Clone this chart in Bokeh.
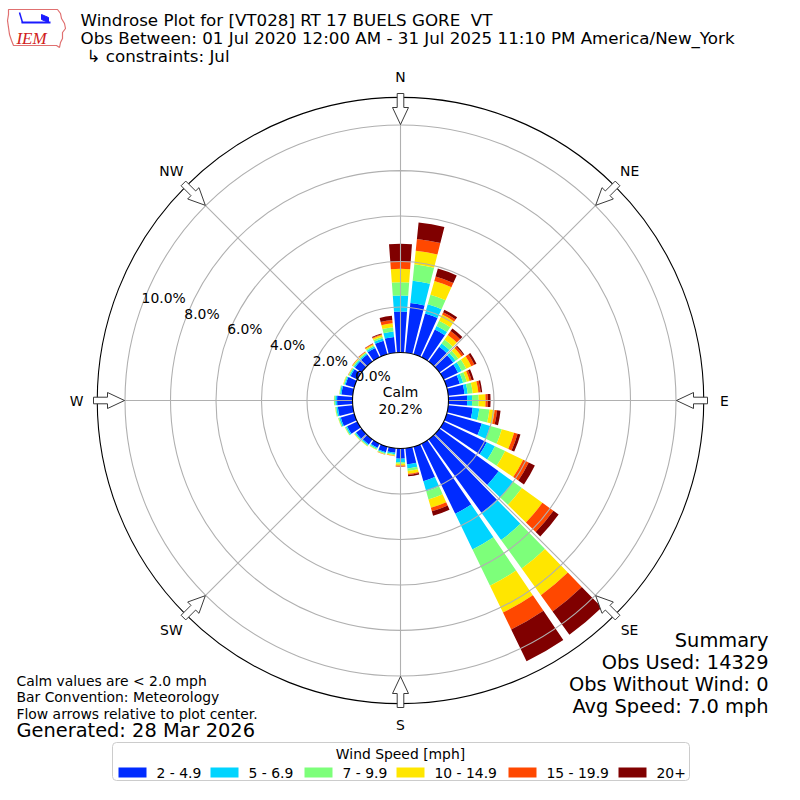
import math
from bokeh.plotting import figure
from bokeh.models import ColumnDataSource, Range1d, Label
from bokeh.embed import file_html
from bokeh.resources import INLINE
from bokeh.core.properties import value

# ---------------- data ----------------
directions = list(range(0, 360, 10))
speed_labels = ["2 - 4.9", "5 - 6.9", "7 - 9.9", "10 - 14.9", "15 - 19.9", "20+"]
speed_colors = ["#002bff", "#00d4ff", "#7dff7a", "#ffe600", "#ff4800", "#800000"]

pct_2_5 = [1.80, 2.20, 1.86, 1.36, 0.80, 0.75, 0.70, 0.60, 0.72, 0.82, 1.08, 1.60,
           2.10, 3.21, 3.97, 3.42, 1.58, 0.71, 0.45, 0.20, 0.25, 0.20, 0.27, 0.30,
           0.50, 0.62, 0.66, 0.68, 0.50, 0.40, 0.33, 0.36, 0.38, 0.45, 0.62, 0.70]
pct_5_7 = [0.71, 0.98, 0.43, 0.17, 0.18, 0.13, 0.18, 0.15, 0.14, 0.22, 0.29, 0.39,
           0.40, 0.79, 1.48, 1.74, 0.46, 0.18, 0.15, 0.06, 0.05, 0.05, 0.05, 0.05,
           0.06, 0.07, 0.07, 0.08, 0.06, 0.05, 0.06, 0.06, 0.06, 0.08, 0.10, 0.24]
pct_7_10 = [0.58, 0.73, 0.43, 0.25, 0.21, 0.15, 0.22, 0.17, 0.22, 0.29, 0.45, 0.53,
            0.50, 0.47, 1.55, 1.77, 0.37, 0.12, 0.07, 0.05, 0.04, 0.04, 0.04, 0.03,
            0.04, 0.04, 0.04, 0.05, 0.03, 0.04, 0.04, 0.05, 0.05, 0.06, 0.08, 0.19]
pct_10_15 = [0.59, 0.60, 0.63, 0.31, 0.25, 0.17, 0.25, 0.13, 0.25, 0.30, 0.23, 0.56,
             0.88, 1.11, 1.44, 1.31, 0.38, 0.12, 0.08, 0.03, 0.02, 0.02, 0.02, 0.02,
             0.01, 0.01, 0.01, 0.01, 0.01, 0.02, 0.02, 0.03, 0.03, 0.05, 0.08, 0.17]
pct_15_20 = [0.32, 0.52, 0.20, 0.11, 0.21, 0.10, 0.15, 0.09, 0.10, 0.10, 0.11, 0.16,
             0.27, 0.60, 0.88, 0.83, 0.16, 0.05, 0.04, 0.01, 0.01, 0.00, 0.00, 0.00,
             0.00, 0.00, 0.00, 0.00, 0.00, 0.00, 0.01, 0.02, 0.02, 0.03, 0.04, 0.15]
pct_20p = [0.78, 0.73, 0.37, 0.12, 0.14, 0.05, 0.10, 0.10, 0.07, 0.12, 0.15, 0.13,
           0.30, 0.28, 1.26, 1.55, 0.20, 0.06, 0.01, 0.00, 0.00, 0.00, 0.00, 0.00,
           0.00, 0.00, 0.00, 0.00, 0.00, 0.00, 0.00, 0.00, 0.01, 0.01, 0.03, 0.18]
series = [pct_2_5, pct_5_7, pct_7_10, pct_10_15, pct_15_20, pct_20p]

calm_pct = 20.2
ring_ticks = [0, 2, 4, 6, 8, 10]
compass_names = ["N", "NE", "E", "SE", "S", "SW", "W", "NW"]
compass_bearings = [0, 45, 90, 135, 180, 225, 270, 315]

title_lines = ["Windrose Plot for [VT028] RT 17 BUELS GORE\u00a0 VT",
               "Obs Between: 01 Jul 2020 12:00 AM - 31 Jul 2025 11:10 PM America/New_York",
               "\u21b3 constraints: Jul"]
summary_lines = ["Summary", "Obs Used: 14329", "Obs Without Wind: 0", "Avg Speed: 7.0 mph"]
note_lines = ["Calm values are < 2.0 mph", "Bar Convention: Meteorology",
              "Flow arrows relative to plot center."]
generated_text = "Generated: 28 Mar 2026"

# ---------------- geometry / scales ----------------
W = H = 784
R0 = 48.0          # radius (px) of 0 %
SCALE = 22.75      # px per 1 %
RMAX_PCT = 11.22   # outer frame in %
HALF_W = 4.2       # half angular width of a sector (deg)
FONT = "DejaVu Sans"


def rad(pct):
    return R0 + SCALE * pct


def ref(xr, yr):
    """picture pixel -> data coordinate (1 unit = 1 px, centre at 0,0)"""
    return xr - 400.0, 400.0 - yr


def polar(bearing, r):
    b = math.radians(bearing)
    return r * math.sin(b), r * math.cos(b)


p = figure(width=W, height=H, x_range=Range1d(-400, 384), y_range=Range1d(-384, 400),
           output_backend="svg", toolbar_location=None, min_border=0)
p.axis.visible = False
p.grid.visible = False
p.outline_line_color = None
p.background_fill_color = "white"

# ---------------- bars ----------------
inner, outer, start, end, col = [], [], [], [], []
for i, d in enumerate(directions):
    cum = 0.0
    for s, c in zip(series, speed_colors):
        v = s[i]
        if v <= 0:
            continue
        inner.append(rad(cum))
        outer.append(rad(cum + v))
        cum += v
        mid = 90.0 - d
        start.append(math.radians(mid - HALF_W))
        end.append(math.radians(mid + HALF_W))
        col.append(c)
bars = ColumnDataSource(dict(x=[0.0] * len(inner), y=[0.0] * len(inner), inner=inner,
                             outer=outer, start=start, end=end, color=col))
p.annular_wedge(x="x", y="y", inner_radius="inner", outer_radius="outer",
                start_angle="start", end_angle="end", fill_color="color",
                line_color=None, source=bars)

# ---------------- grid ----------------
ring_r = [rad(t) for t in ring_ticks[1:]]
p.circle(x=[0] * len(ring_r), y=[0] * len(ring_r), radius=ring_r, fill_color=None,
         line_color="#b0b0b0", line_width=1.1)
xs0, ys0, xs1, ys1 = [], [], [], []
for b in compass_bearings:
    x1, y1 = polar(b, rad(RMAX_PCT))
    xs0.append(0); ys0.append(0); xs1.append(x1); ys1.append(y1)
p.segment(x0=xs0, y0=ys0, x1=xs1, y1=ys1, line_color="#b0b0b0", line_width=1.1)
p.circle(x=[0], y=[0], radius=[rad(RMAX_PCT)], fill_color=None, line_color="black",
         line_width=1.1)

# calm circle
p.circle(x=[0], y=[0], radius=[R0], fill_color="white", line_color="black", line_width=1.1)
p.text(x=[0, 0], y=[9, -8], text=["Calm", f"{calm_pct:.1f}%"], text_align="center",
       text_baseline="middle", text_font=value(FONT), text_font_size="13.9px",
       text_color="black")

# ---------------- flow arrows ----------------
arrow_local = [(307, -3.3), (293, -3.3), (293, -8), (276, 0), (293, 8), (293, 3.3), (307, 3.3)]
axs, ays = [], []
for b in compass_bearings:
    br = math.radians(b)
    u = (math.sin(br), math.cos(br))
    v = (math.cos(br), -math.sin(br))
    axs.append([r * u[0] + w * v[0] for r, w in arrow_local])
    ays.append([r * u[1] + w * v[1] for r, w in arrow_local])
p.patches(xs=axs, ys=ays, fill_color="white", line_color="#3a3a3a", line_width=1)

# compass labels
cx, cy = [], []
for b in compass_bearings:
    x, y = polar(b, 324)
    cx.append(x); cy.append(y)
p.text(x=cx, y=cy, text=compass_names, text_align="center", text_baseline="middle",
       text_font=value(FONT), text_font_size="13.9px", text_color="black")

# radial tick labels
lx, ly, lt = [], [], []
for t in ring_ticks:
    x, y = polar(290, rad(t))
    lx.append(x); ly.append(y + 8)
    lt.append(f"{t:.1f}%")
p.text(x=lx, y=ly, text=lt, text_align="left", text_baseline="middle",
       text_font=value(FONT), text_font_size="13.9px", text_color="black")


# ---------------- titles / notes ----------------
def add_label(xr, yr, text, size, align="left", color="black", style="normal", font=FONT):
    x, y = ref(xr, yr)
    p.add_layout(Label(x=x, y=y, text=text, text_font=font, text_font_size=size,
                       text_align=align, text_baseline="middle", text_color=color,
                       text_font_style=style))


for i, t in enumerate(title_lines):
    add_label(80 if i < 2 else 86, 19 + 18 * i, t, "16.7px")
for i, t in enumerate(summary_lines):
    add_label(768, 640 + 22 * i, t, "19.4px", align="right")
for i, t in enumerate(note_lines):
    add_label(16, 680 + 16.5 * i, t, "13.9px")
add_label(16, 730, generated_text, "19.4px")

# ---------------- legend ----------------
l, tp = ref(112, 742)
r_, bt = ref(689, 780)
p.quad(left=[l], right=[r_], top=[tp], bottom=[bt], fill_color="white",
       line_color="#cccccc", line_width=1, border_radius=4)
add_label(400, 753, "Wind Speed [mph]", "13.9px", align="center")
col_starts = [118, 210, 304, 396, 508, 618]
pxs, pys = [], []
for xs_ in col_starts:
    x, y = ref(xs_ + 14, 772)
    pxs.append(x); pys.append(y)
p.rect(x=pxs, y=pys, width=28, height=10, fill_color=speed_colors, line_color=None)
for xs_, t in zip(col_starts, speed_labels):
    add_label(xs_ + 38, 772, t, "13.9px")

# ---------------- IEM logo ----------------
iowa = [(8, 9), (57, 9), (60, 13), (61, 18), (64, 23), (65, 28), (62, 32), (62, 38),
        (60, 42), (59, 47), (56, 45), (13, 45), (11, 40), (9, 34), (8, 27), (7, 20), (8, 14)]
ix = [ref(a, b)[0] for a, b in iowa]
iy = [ref(a, b)[1] for a, b in iowa]
p.patch(x=ix, y=iy, fill_color=None, line_color="#e07070", line_width=1.2)
bx0, by0 = ref(21, 22)
bx1, by1 = ref(50, 22)
p.segment(x0=[bx0], y0=[by0], x1=[bx1], y1=[by1], line_color="#1a1aff", line_width=2)
sx0, sy0 = ref(19, 12)
sx1, sy1 = ref(22, 22)
p.segment(x0=[sx0], y0=[sy0], x1=[sx1], y1=[sy1], line_color="#1a1aff", line_width=1.5)
flag = [(41, 14), (48, 17), (48, 22), (41, 19)]
fx = [ref(a, b)[0] for a, b in flag]
fy = [ref(a, b)[1] for a, b in flag]
p.patch(x=fx, y=fy, fill_color="#1a1aff", line_color="#1a1aff")
add_label(31, 38, "IEM", "17px", align="center", color="#d02020", style="italic",
          font="Liberation Serif")

open("out.html", "w").write(file_html(p, INLINE))
